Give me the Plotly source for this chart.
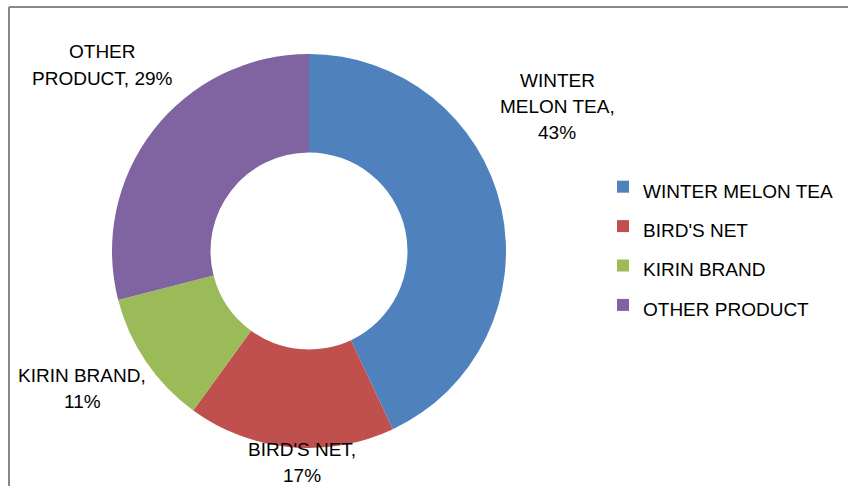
import plotly.graph_objects as go

categories = ["WINTER MELON TEA", "BIRD'S NET", "KIRIN BRAND", "OTHER PRODUCT"]
values = [43, 17, 11, 29]
colors = ["#4F81BD", "#C0504D", "#9BBB59", "#8064A2"]

W, H = 848, 486
cx, cy, r = 309, 251, 197
FONT = "Liberation Sans, Arial"
FS = 19

total = sum(values)
pcts = [f"{round(v * 100 / total)}%" for v in values]

fig = go.Figure()
fig.add_trace(go.Pie(
    labels=[f"<span style='font-size:{FS}px'>{c}</span>" for c in categories],
    values=values,
    hole=0.5,
    sort=False,
    direction="clockwise",
    rotation=0,
    marker=dict(colors=colors, line=dict(width=0)),
    textinfo="none",
    hoverinfo="skip",
    domain=dict(x=[(cx - r) / W, (cx + r) / W], y=[(H - cy - r) / H, (H - cy + r) / H]),
    showlegend=True,
))

# data-label lines built from the data
label_lines = [
    ["WINTER", "MELON TEA,", pcts[0]],
    [categories[1] + ",", pcts[1]],
    [categories[2] + ",", pcts[2]],
    ["OTHER", "PRODUCT, " + pcts[3]],
]
# first-line centre positions (px from top-left) and line spacing
pos = [(557, 80), (302, 449), (82, 375), (102, 52)]
LS = 26
annotations = []
for lines, (x, y) in zip(label_lines, pos):
    for i, t in enumerate(lines):
        annotations.append(dict(
            x=x / W, y=1 - (y + i * LS) / H, xref="paper", yref="paper",
            text=t, showarrow=False, xanchor="center", yanchor="middle",
            font=dict(family=FONT, size=FS, color="#000000"),
        ))

fig.update_layout(
    width=W, height=H,
    margin=dict(l=0, r=0, t=0, b=0),
    paper_bgcolor="#FFFFFF",
    plot_bgcolor="#FFFFFF",
    annotations=annotations,
    legend=dict(
        x=603 / W, y=1 - 162 / H, xanchor="left", yanchor="top",
        font=dict(family=FONT, size=28, color="#000000"),
        bgcolor="rgba(0,0,0,0)",
    ),
    shapes=[
        dict(type="line", xref="paper", yref="paper", x0=9 / W, x1=1, y0=1 - 7 / H, y1=1 - 7 / H,
             line=dict(color="#878787", width=2)),
        dict(type="line", xref="paper", yref="paper", x0=9 / W, x1=9 / W, y0=0, y1=1 - 7 / H,
             line=dict(color="#878787", width=2)),
    ],
)

fig.write_html("out.html")
